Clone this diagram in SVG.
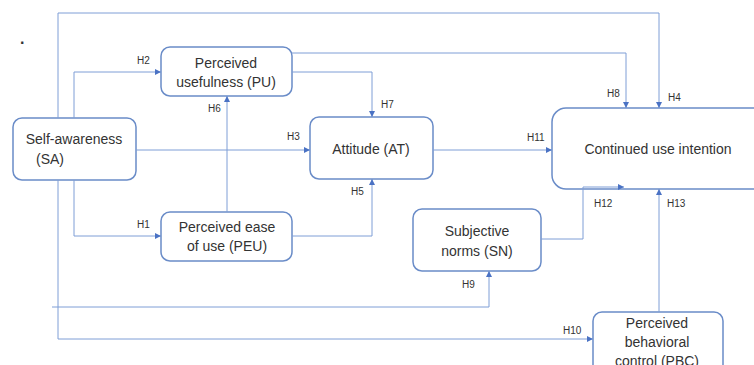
<svg xmlns="http://www.w3.org/2000/svg" width="754" height="365" viewBox="0 0 754 365">
<style>
.box{fill:#fff;stroke:#6a8cc8;stroke-width:1.5}
.t{font-family:"Liberation Sans",Arial,sans-serif;font-size:14px;fill:#333;text-anchor:middle}
.h{font-family:"Liberation Sans",Arial,sans-serif;font-size:10px;fill:#333}
.c{fill:none;stroke:#7f9ed6;stroke-width:1}
</style>
<defs>
<marker id="a" viewBox="0 0 6 6" refX="6" refY="3" markerWidth="6" markerHeight="6" orient="auto" markerUnits="userSpaceOnUse">
<path d="M0,0 L6,3 L0,6 z" fill="#4a72c4"/>
</marker>
</defs>
<rect width="754" height="365" fill="#fff"/>
<text x="20" y="44" class="h" style="font-size:16px;font-weight:bold">.</text>
<g id="SA">
<rect class="box" x="13" y="118" width="123" height="62" rx="9"/>
<text class="t" x="74" y="144">Self-awareness</text>
<text class="t" x="50" y="164">(SA)</text>
</g>
<g id="PU">
<rect class="box" x="161" y="47" width="131" height="49" rx="9"/>
<text class="t" x="226" y="68">Perceived</text>
<text class="t" x="226" y="87">usefulness (PU)</text>
</g>
<g id="AT">
<rect class="box" x="310" y="117" width="123" height="62" rx="9"/>
<text class="t" x="371" y="154">Attitude (AT)</text>
</g>
<g id="CUI">
<rect class="box" x="552" y="108" width="220" height="81" rx="14"/>
<text class="t" x="658" y="154">Continued use intention</text>
</g>
<g id="PEU">
<rect class="box" x="161" y="212" width="131" height="49" rx="9"/>
<text class="t" x="227" y="232">Perceived ease</text>
<text class="t" x="227" y="251">of use (PEU)</text>
</g>
<g id="SN">
<rect class="box" x="413" y="209" width="128" height="62" rx="9"/>
<text class="t" x="477" y="236">Subjective</text>
<text class="t" x="477" y="256">norms (SN)</text>
</g>
<g id="PBC">
<rect class="box" x="593" y="312" width="130" height="70" rx="9"/>
<text class="t" x="657" y="328">Perceived</text>
<text class="t" x="657" y="347">behavioral</text>
<text class="t" x="657" y="366">control (PBC)</text>
</g>
<g id="connectors">
<path class="c" d="M58,118 V13 H659 V108" marker-end="url(#a)"/>
<path class="c" d="M292,53 H626 V108" marker-end="url(#a)"/>
<path class="c" d="M292,72 H372 V117" marker-end="url(#a)"/>
<path class="c" d="M74,118 V72 H161" marker-end="url(#a)"/>
<path class="c" d="M136,150 H310" marker-end="url(#a)"/>
<path class="c" d="M227,212 V96" marker-end="url(#a)"/>
<path class="c" d="M74,180 V236 H161" marker-end="url(#a)"/>
<path class="c" d="M292,236 H372 V179" marker-end="url(#a)"/>
<path class="c" d="M433,150 H552" marker-end="url(#a)"/>
<path class="c" d="M541,239 H583 V187 H624" marker-end="url(#a)"/>
<path class="c" d="M659,312 V189" marker-end="url(#a)"/>
<path class="c" d="M52,307 H489 V271" marker-end="url(#a)"/>
<path class="c" d="M58,180 V339 H593" marker-end="url(#a)"/>
<text class="h" x="137" y="64">H2</text>
<text class="h" x="208" y="112">H6</text>
<text class="h" x="287" y="140">H3</text>
<text class="h" x="381" y="108">H7</text>
<text class="h" x="351" y="195">H5</text>
<text class="h" x="137" y="228">H1</text>
<text class="h" x="527" y="141">H11</text>
<text class="h" x="607" y="97">H8</text>
<text class="h" x="668" y="101">H4</text>
<text class="h" x="594" y="207">H12</text>
<text class="h" x="667" y="207">H13</text>
<text class="h" x="462" y="288">H9</text>
<text class="h" x="563" y="334">H10</text>
</g>
</svg>
